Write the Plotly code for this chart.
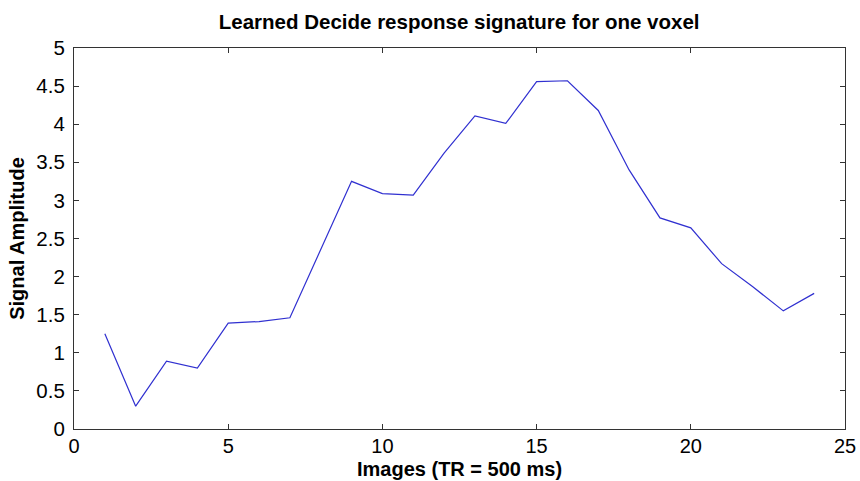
import plotly.graph_objects as go

images = list(range(1, 25))
amplitude = [1.25, 0.30, 0.89, 0.80, 1.39, 1.41, 1.46, 2.35, 3.25, 3.09, 3.07, 3.62,
             4.11, 4.01, 4.56, 4.57, 4.18, 3.40, 2.77, 2.64, 2.17, 1.87, 1.55, 1.78]

x_ticks = [0, 5, 10, 15, 20, 25]
y_ticks = [0, 0.5, 1, 1.5, 2, 2.5, 3, 3.5, 4, 4.5, 5]
y_tick_labels = ["0", "0.5", "1", "1.5", "2", "2.5", "3", "3.5", "4", "4.5", "5"]

x_title = "Images (TR = 500 ms)"
y_title = "Signal Amplitude"
chart_title = "Learned Decide response signature for one voxel"

fig = go.Figure()
fig.add_trace(go.Scatter(x=images, y=amplitude, mode="lines",
                         line=dict(color="#3030d0", width=1.2), showlegend=False))

font_family = "Liberation Sans, Arial, Helvetica, sans-serif"
fig.update_layout(
    width=860, height=481,
    margin=dict(l=74, r=15, t=47.7, b=51.7),
    paper_bgcolor="white", plot_bgcolor="white",
    font=dict(family=font_family, color="black", size=20),
    title=dict(text="<b>" + chart_title + "</b>",
               x=0.5339, xanchor="center", y=0.955, yanchor="middle",
               font=dict(size=20.5, family=font_family, color="black")),
    xaxis=dict(range=[0, 25], tickvals=x_ticks, ticks="inside", ticklen=5,
               tickcolor="#333", showline=True, linecolor="#333", linewidth=1.2,
               mirror="ticks", showgrid=False, zeroline=False, automargin=False,
               tickfont=dict(size=20), ticklabelstandoff=-1),
    yaxis=dict(range=[0, 5], tickvals=y_ticks, ticktext=y_tick_labels, ticks="inside", ticklen=5,
               tickcolor="#333", showline=True, linecolor="#333", linewidth=1.2,
               mirror="ticks", showgrid=False, zeroline=False, automargin=False,
               tickfont=dict(size=20.5), ticklabelstandoff=4,
               title=dict(text="<b>" + y_title + "</b>", font=dict(size=20), standoff=6)),
    annotations=[dict(text="<b>" + x_title + "</b>", xref="paper", yref="paper",
                      x=0.5, y=-0.104, xanchor="center", yanchor="middle",
                      showarrow=False, font=dict(size=20))],
)

fig.write_html("out.html")
